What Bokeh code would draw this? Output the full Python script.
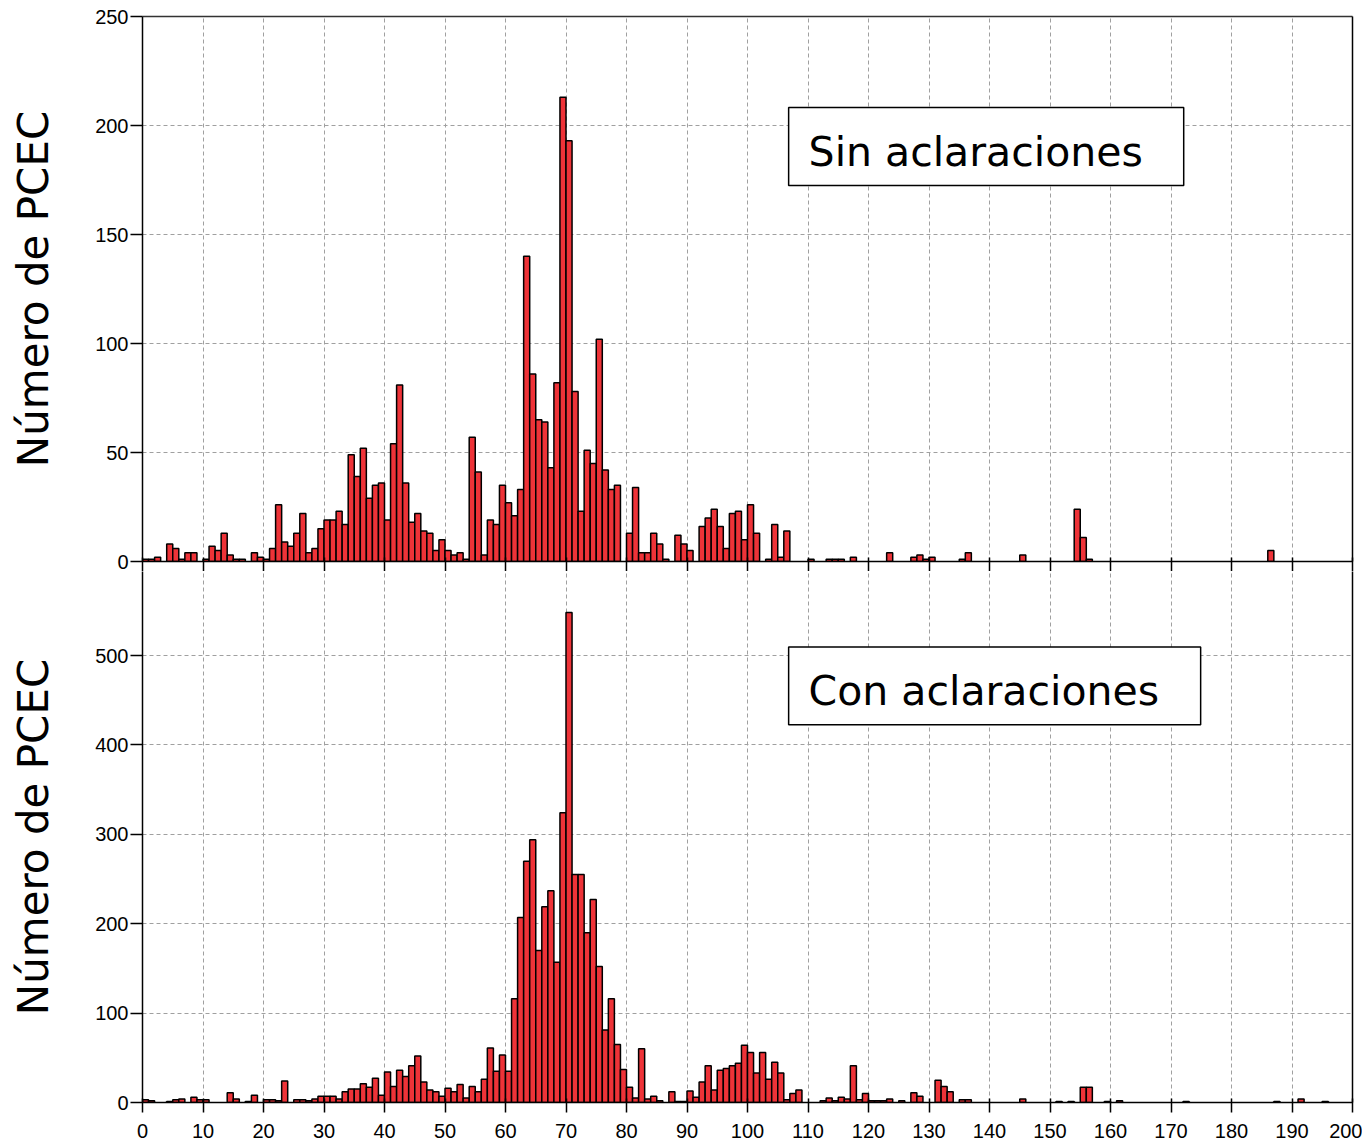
from bokeh.plotting import figure
from bokeh.layouts import column
from bokeh.models import (ColumnDataSource, LinearAxis, SingleIntervalTicker, FixedTicker,
                          BoxAnnotation, Label)
from bokeh.embed import file_html
from bokeh.resources import INLINE

# ---- data: counts per 1-unit bin, bins 0..199 ----
bin_starts = list(range(200))

counts_sin = [
    1, 1, 2, 0, 8, 6, 1, 4, 4, 0, 1, 7, 5, 13, 3, 1, 1, 0, 4, 2,
    1, 6, 26, 9, 7, 13, 22, 4, 6, 15, 19, 19, 23, 17, 49, 39, 52, 29, 35, 36,
    19, 54, 81, 36, 18, 22, 14, 13, 5, 10, 5, 3, 4, 1, 57, 41, 3, 19, 17, 35,
    27, 21, 33, 140, 86, 65, 64, 43, 82, 213, 193, 78, 23, 51, 45, 102, 42, 33, 35, 0,
    13, 34, 4, 4, 13, 8, 1, 0, 12, 8, 5, 0, 16, 20, 24, 16, 6, 22, 23, 10,
    26, 13, 0, 1, 17, 2, 14, 0, 0, 0, 1, 0, 0, 1, 1, 1, 0, 2, 0, 0,
    0, 0, 0, 4, 0, 0, 0, 2, 3, 1, 2, 0, 0, 0, 0, 1, 4, 0, 0, 0,
    0, 0, 0, 0, 0, 3, 0, 0, 0, 0, 0, 0, 0, 0, 24, 11, 1, 0, 0, 0,
    0, 0, 0, 0, 0, 0, 0, 0, 0, 0, 0, 0, 0, 0, 0, 0, 0, 0, 0, 0,
    0, 0, 0, 0, 0, 0, 5, 0, 0, 0, 0, 0, 0, 0, 0, 0, 0, 0, 0, 0,
]

counts_con = [
    3, 2, 0, 0, 1, 3, 4, 0, 6, 3, 3, 0, 0, 0, 11, 4, 0, 1, 8, 0,
    3, 3, 2, 24, 0, 3, 3, 2, 4, 7, 7, 7, 4, 12, 15, 15, 21, 17, 27, 8,
    34, 18, 36, 29, 41, 52, 23, 14, 12, 7, 16, 12, 20, 5, 18, 12, 26, 61, 35, 53,
    35, 116, 207, 270, 294, 170, 219, 237, 157, 324, 548, 255, 255, 190, 227, 152, 81, 116, 65, 37,
    17, 5, 60, 4, 7, 2, 0, 12, 1, 1, 13, 6, 23, 41, 14, 36, 38, 41, 44, 64,
    56, 33, 56, 26, 45, 33, 3, 10, 14, 0, 0, 0, 2, 5, 2, 6, 4, 41, 3, 10,
    2, 2, 2, 4, 0, 2, 0, 11, 7, 0, 0, 25, 18, 12, 0, 3, 3, 0, 0, 0,
    0, 0, 0, 0, 0, 4, 0, 0, 0, 0, 0, 1, 0, 1, 0, 17, 17, 0, 0, 1,
    0, 2, 0, 0, 0, 0, 0, 0, 0, 0, 0, 0, 1, 0, 0, 0, 0, 0, 0, 0,
    0, 0, 0, 0, 0, 0, 0, 1, 0, 0, 0, 4, 0, 0, 0, 1, 0, 0, 0, 0,
]

y_label = "Número de PCEC"
title_sin = "Sin aclaraciones"
title_con = "Con aclaraciones"

BAR_FILL = "#EE3338"
GRID = "#A0A0A0"
TICK_FONT = "Liberation Sans"
TEXT_FONT = "DejaVu Sans"
x_tick_positions = list(range(0, 201, 10))


def make_source(counts):
    xs = [b for b, c in zip(bin_starts, counts) if c > 0]
    cs = [c for c in counts if c > 0]
    return ColumnDataSource(dict(left=xs, right=[x + 1 for x in xs], top=cs))


def line_only_axis(color="black"):
    return LinearAxis(ticker=FixedTicker(ticks=[]), axis_line_color=color,
                      axis_line_width=1.5, major_tick_line_color=None,
                      minor_tick_line_color=None, major_label_standoff=0,
                      major_tick_out=0, major_tick_in=0)


def style(p, yint):
    p.outline_line_color = None
    p.background_fill_color = "white"
    p.border_fill_color = "white"
    p.xgrid.ticker = SingleIntervalTicker(interval=10)
    p.ygrid.ticker = SingleIntervalTicker(interval=yint)
    for g in (p.xgrid, p.ygrid):
        g.grid_line_color = GRID
        g.grid_line_dash = "4 3"
        g.grid_line_width = 1
    p.xaxis.ticker = SingleIntervalTicker(interval=10, num_minor_ticks=0)
    p.yaxis.ticker = SingleIntervalTicker(interval=yint, num_minor_ticks=0)
    for ax in (p.xaxis, p.yaxis):
        ax.axis_line_color = "black"
        ax.axis_line_width = 1.5
        ax.major_tick_line_color = "black"
        ax.major_tick_line_width = 1.5
        ax.minor_tick_line_color = None
        ax.major_label_text_font = TICK_FONT
        ax.major_label_text_font_size = "20px"
        ax.major_label_text_color = "black"
    p.xaxis.major_tick_in = 4
    p.xaxis.major_tick_out = 10
    p.yaxis.major_tick_in = 0
    p.yaxis.major_tick_out = 12
    p.yaxis.major_label_standoff = 2
    p.yaxis.axis_label = y_label
    p.yaxis.axis_label_text_font = TEXT_FONT
    p.yaxis.axis_label_text_font_size = "42px"
    p.yaxis.axis_label_text_font_style = "normal"
    p.yaxis.axis_label_text_color = "black"
    p.yaxis.axis_label_standoff = 34
    p.add_layout(line_only_axis(), "right")


W = 1362
# ---------- top panel ----------
p1 = figure(width=W, height=571, x_range=(0, 200), y_range=(0, 250),
            output_backend="svg", toolbar_location=None,
            min_border_left=142, min_border_right=10, min_border_top=16,
            min_border_bottom=0)
style(p1, 50)
# x ticks of the top panel without labels (drawn as minor ticks)
p1.xaxis.ticker = FixedTicker(ticks=[], minor_ticks=x_tick_positions)
p1.xaxis.minor_tick_line_color = "black"
p1.xaxis.minor_tick_line_width = 1.5
p1.xaxis.minor_tick_in = 4
p1.xaxis.minor_tick_out = 10
p1.xaxis.major_label_standoff = 0
p1.add_layout(line_only_axis("#333333"), "above")
p1.quad(left="left", right="right", top="top", bottom=0, source=make_source(counts_sin),
        fill_color=BAR_FILL, line_color="black", line_width=1.5)
p1.add_layout(BoxAnnotation(left=106.8, right=172.1, bottom=172.5, top=208.3,
                            fill_color="white", fill_alpha=1.0,
                            line_color="black", line_alpha=1.0, line_width=1.5,
                            level="overlay"))
p1.add_layout(Label(x=110.1, y=188.0, text=title_sin, text_font=TEXT_FONT,
                    text_font_size="41px", text_color="black",
                    text_baseline="alphabetic", text_align="left", level="overlay"))

# ---------- bottom panel ----------
p2 = figure(width=W, height=569, x_range=(0, 200), y_range=(0, 594),
            output_backend="svg", toolbar_location=None,
            min_border_left=142, min_border_right=10, min_border_top=0,
            min_border_bottom=0)
style(p2, 100)
p2.xaxis.major_label_standoff = 11
p2.quad(left="left", right="right", top="top", bottom=0, source=make_source(counts_con),
        fill_color=BAR_FILL, line_color="black", line_width=1.5)
p2.add_layout(BoxAnnotation(left=106.8, right=174.9, bottom=422.5, top=509.5,
                            fill_color="white", fill_alpha=1.0,
                            line_color="black", line_alpha=1.0, line_width=1.5,
                            level="overlay"))
p2.add_layout(Label(x=110.1, y=460.0, text=title_con, text_font=TEXT_FONT,
                    text_font_size="41px", text_color="black",
                    text_baseline="alphabetic", text_align="left", level="overlay"))

layout = column(p1, p2, spacing=0)
open("out.html", "w").write(file_html(layout, INLINE))
